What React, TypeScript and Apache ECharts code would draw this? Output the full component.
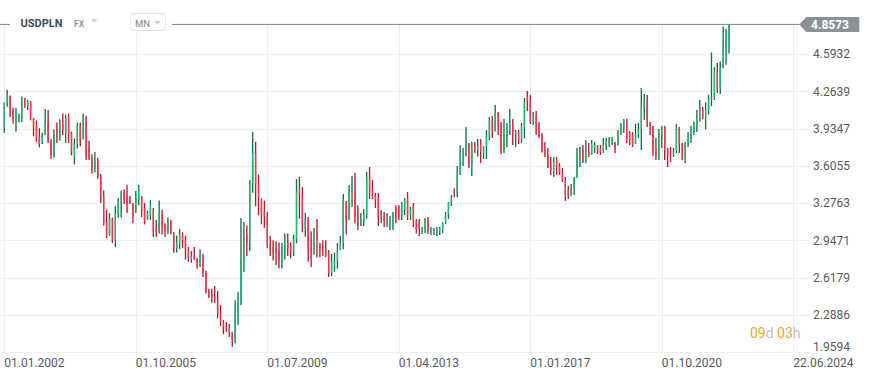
import React, { useEffect, useRef } from "react";
import * as echarts from "echarts";

// USDPLN monthly candles, Jan 2002 .. Sep 2022 (one row per year)
const OPEN = [
  3.95, 4.16, 4.22, 4.10, 4.02, 4.01, 4.06, 4.20, 4.13, 4.17, 4.03, 3.97,
  3.86, 3.82, 3.88, 4.00, 3.84, 3.71, 3.93, 3.86, 3.99, 3.90, 4.04, 3.89,
  3.68, 3.80, 3.96, 3.85, 4.04, 3.78, 3.68, 3.58, 3.66, 3.52, 3.35, 3.12,
  3.00, 3.14, 2.95, 3.18, 3.29, 3.37, 3.34, 3.31, 3.27, 3.21, 3.30, 3.33,
  3.23, 3.14, 3.17, 3.22, 3.06, 3.03, 3.18, 3.09, 3.03, 3.12, 3.02, 2.88,
  2.92, 3.00, 2.96, 2.87, 2.78, 2.82, 2.79, 2.73, 2.82, 2.66, 2.50, 2.47,
  2.46, 2.43, 2.30, 2.22, 2.19, 2.17, 2.13, 2.08, 2.30, 2.40, 2.78, 3.00,
  2.93, 3.45, 3.72, 3.45, 3.31, 3.20, 3.16, 2.91, 2.89, 2.88, 2.86, 2.77,
  2.86, 2.93, 2.90, 2.85, 2.96, 3.40, 3.35, 3.06, 3.13, 2.90, 2.84, 3.02,
  2.92, 2.90, 2.88, 2.83, 2.66, 2.72, 2.76, 2.87, 2.92, 3.28, 3.13, 3.38,
  3.44, 3.18, 3.10, 3.12, 3.17, 3.50, 3.40, 3.34, 3.33, 3.20, 3.17, 3.09,
  3.08, 3.12, 3.24, 3.25, 3.16, 3.22, 3.32, 3.17, 3.25, 3.12, 3.12, 3.02,
  3.04, 3.12, 3.02, 3.02, 3.01, 3.03, 3.04, 3.10, 3.18, 3.28, 3.39, 3.36,
  3.55, 3.68, 3.70, 3.80, 3.62, 3.78, 3.74, 3.80, 3.72, 3.78, 3.87, 4.01,
  3.92, 4.08, 3.99, 3.73, 3.88, 3.93, 3.98, 3.88, 3.90, 3.84, 3.95, 4.22,
  4.18, 4.00, 4.05, 3.96, 3.87, 3.74, 3.71, 3.62, 3.56, 3.66, 3.60, 3.55,
  3.48, 3.40, 3.35, 3.42, 3.50, 3.67, 3.75, 3.65, 3.73, 3.71, 3.76, 3.78,
  3.76, 3.73, 3.79, 3.81, 3.82, 3.81, 3.79, 3.89, 3.95, 4.01, 3.90, 3.88,
  3.80, 3.88, 3.93, 4.14, 4.17, 3.99, 3.96, 3.74, 3.68, 3.87, 3.95, 3.75,
  3.72, 3.70, 3.74, 3.94, 3.80, 3.67, 3.80, 3.85, 3.89, 3.96, 4.00, 4.11,
  4.04, 4.10, 4.20, 4.21, 4.44, 4.29, 4.49, 4.64, 4.74,
];
const CLOSE = [
  4.16, 4.24, 4.10, 4.02, 4.08, 4.06, 4.20, 4.14, 4.17, 4.03, 3.95, 3.84,
  3.80, 3.88, 4.00, 3.83, 3.71, 3.90, 3.86, 3.98, 3.92, 4.03, 3.89, 3.74,
  3.80, 3.96, 3.82, 4.04, 3.70, 3.68, 3.58, 3.66, 3.52, 3.32, 3.10, 2.99,
  3.14, 2.95, 3.18, 3.29, 3.37, 3.31, 3.27, 3.28, 3.16, 3.32, 3.40, 3.22,
  3.12, 3.19, 3.26, 3.02, 3.02, 3.18, 3.07, 3.03, 3.12, 3.03, 2.88, 2.93,
  3.00, 2.95, 2.87, 2.78, 2.81, 2.79, 2.73, 2.83, 2.66, 2.50, 2.46, 2.44,
  2.43, 2.30, 2.22, 2.18, 2.17, 2.13, 2.07, 2.30, 2.40, 2.78, 2.97, 2.93,
  3.45, 3.72, 3.44, 3.33, 3.17, 3.16, 2.90, 2.85, 2.84, 2.84, 2.77, 2.86,
  2.93, 2.88, 2.85, 2.96, 3.38, 3.35, 3.08, 3.13, 2.88, 2.84, 3.02, 2.96,
  2.87, 2.87, 2.83, 2.66, 2.76, 2.76, 2.85, 2.92, 3.30, 3.13, 3.40, 3.44,
  3.16, 3.10, 3.13, 3.17, 3.50, 3.36, 3.33, 3.30, 3.16, 3.15, 3.12, 3.13,
  3.12, 3.18, 3.17, 3.16, 3.27, 3.31, 3.17, 3.22, 3.12, 3.04, 3.05, 3.04,
  3.12, 3.03, 3.04, 3.04, 3.05, 3.05, 3.10, 3.18, 3.28, 3.33, 3.36, 3.55,
  3.72, 3.70, 3.80, 3.62, 3.76, 3.74, 3.79, 3.74, 3.78, 3.87, 4.01, 3.92,
  4.08, 3.99, 3.73, 3.90, 3.94, 3.98, 3.90, 3.91, 3.84, 3.95, 4.17, 4.18,
  4.00, 4.05, 3.96, 3.87, 3.73, 3.70, 3.60, 3.57, 3.65, 3.60, 3.54, 3.48,
  3.34, 3.34, 3.42, 3.49, 3.72, 3.74, 3.65, 3.72, 3.69, 3.80, 3.79, 3.75,
  3.73, 3.80, 3.83, 3.83, 3.85, 3.75, 3.87, 3.96, 4.01, 3.83, 3.84, 3.79,
  3.89, 3.93, 4.14, 4.17, 3.99, 3.96, 3.73, 3.70, 3.87, 3.95, 3.74, 3.70,
  3.70, 3.74, 3.94, 3.80, 3.67, 3.81, 3.86, 3.89, 3.97, 4.00, 4.12, 4.04,
  4.10, 4.20, 4.21, 4.44, 4.29, 4.48, 4.64, 4.74, 4.8573,
];
const LOW = [
  3.90, 4.13, 4.04, 3.98, 3.91, 3.99, 3.995, 4.12, 4.10, 4.01, 3.87, 3.82,
  3.77, 3.80, 3.88, 3.81, 3.67, 3.68, 3.81, 3.83, 3.88, 3.81, 3.81, 3.70,
  3.62, 3.76, 3.78, 3.84, 3.66, 3.66, 3.54, 3.55, 3.49, 3.28, 3.08, 2.97,
  2.99, 2.925, 2.89, 3.15, 3.15, 3.27, 3.19, 3.27, 3.10, 3.19, 3.26, 3.155,
  3.09, 3.13, 3.13, 2.98, 2.98, 3.01, 3.00, 2.98, 3.005, 3.00, 2.84, 2.84,
  2.87, 2.88, 2.78, 2.76, 2.75, 2.775, 2.70, 2.71, 2.625, 2.48, 2.44, 2.40,
  2.395, 2.26, 2.19, 2.12, 2.14, 2.095, 2.006, 2.04, 2.20, 2.377, 2.67, 2.81,
  2.855, 3.37, 3.25, 3.17, 3.09, 3.06, 2.88, 2.81, 2.77, 2.73, 2.70, 2.70,
  2.78, 2.81, 2.79, 2.81, 2.925, 3.14, 3.02, 2.98, 2.76, 2.713, 2.82, 2.80,
  2.80, 2.81, 2.80, 2.625, 2.634, 2.67, 2.70, 2.863, 2.87, 3.00, 3.13, 3.244,
  3.10, 3.04, 3.075, 3.075, 3.14, 3.314, 3.314, 3.235, 3.075, 3.10, 3.067, 3.067,
  3.04, 3.04, 3.10, 3.129, 3.129, 3.173, 3.129, 3.129, 3.067, 3.01, 2.987, 3.005,
  3.014, 3.005, 2.996, 2.996, 2.987, 2.996, 3.014, 3.093, 3.138, 3.252, 3.33, 3.33,
  3.526, 3.606, 3.69, 3.588, 3.517, 3.721, 3.69, 3.632, 3.668, 3.668, 3.836, 3.853,
  3.91, 3.88, 3.712, 3.721, 3.774, 3.88, 3.791, 3.774, 3.80, 3.809, 3.85, 4.092,
  3.977, 3.968, 3.88, 3.853, 3.725, 3.685, 3.588, 3.526, 3.51, 3.53, 3.526, 3.465,
  3.297, 3.314, 3.34, 3.35, 3.50, 3.597, 3.632, 3.632, 3.685, 3.703, 3.721, 3.712,
  3.703, 3.721, 3.747, 3.774, 3.791, 3.721, 3.79, 3.88, 3.898, 3.809, 3.791, 3.774,
  3.80, 3.853, 3.747, 4.012, 3.95, 3.88, 3.694, 3.659, 3.659, 3.765, 3.659, 3.597,
  3.641, 3.685, 3.721, 3.721, 3.659, 3.632, 3.774, 3.81, 3.88, 3.906, 4.00, 4.02,
  3.93, 4.06, 4.136, 4.19, 4.251, 4.242, 4.47, 4.50, 4.60,
];
const HIGH = [
  4.17, 4.28, 4.23, 4.12, 4.12, 4.07, 4.22, 4.21, 4.19, 4.18, 4.03, 4.01,
  3.94, 3.90, 4.11, 4.10, 3.84, 3.93, 3.99, 4.02, 4.07, 4.06, 4.07, 3.91,
  3.85, 3.99, 3.99, 4.07, 4.05, 3.83, 3.71, 3.73, 3.68, 3.535, 3.39, 3.22,
  3.19, 3.15, 3.25, 3.32, 3.39, 3.40, 3.44, 3.34, 3.28, 3.385, 3.44, 3.34,
  3.28, 3.21, 3.305, 3.235, 3.13, 3.30, 3.22, 3.10, 3.15, 3.13, 3.02, 2.99,
  3.05, 3.02, 2.99, 2.89, 2.855, 2.89, 2.79, 2.87, 2.83, 2.68, 2.52, 2.52,
  2.545, 2.50, 2.377, 2.245, 2.227, 2.21, 2.14, 2.42, 2.49, 3.146, 3.11, 3.08,
  3.48, 3.906, 3.82, 3.53, 3.32, 3.30, 3.20, 2.99, 2.95, 2.94, 2.93, 2.925,
  3.01, 3.01, 2.93, 3.00, 3.49, 3.508, 3.42, 3.19, 3.155, 3.03, 3.058, 3.137,
  2.925, 2.95, 2.95, 2.863, 2.83, 2.84, 2.925, 2.987, 3.358, 3.296, 3.438, 3.517,
  3.544, 3.26, 3.19, 3.226, 3.553, 3.597, 3.482, 3.367, 3.367, 3.217, 3.20, 3.19,
  3.164, 3.20, 3.26, 3.26, 3.287, 3.323, 3.376, 3.244, 3.279, 3.137, 3.137, 3.067,
  3.146, 3.155, 3.067, 3.058, 3.067, 3.067, 3.11, 3.199, 3.287, 3.35, 3.41, 3.606,
  3.79, 3.765, 3.95, 3.81, 3.818, 3.818, 3.844, 3.844, 3.783, 3.924, 4.039, 4.048,
  4.145, 4.083, 3.995, 4.021, 3.986, 4.109, 4.021, 3.924, 3.924, 3.986, 4.207, 4.269,
  4.233, 4.083, 4.092, 3.995, 3.898, 3.818, 3.765, 3.685, 3.685, 3.685, 3.632, 3.588,
  3.509, 3.429, 3.447, 3.509, 3.765, 3.774, 3.791, 3.836, 3.809, 3.836, 3.818, 3.791,
  3.791, 3.853, 3.853, 3.862, 3.862, 3.818, 3.924, 3.986, 4.021, 4.021, 3.915, 3.906,
  3.977, 3.986, 4.295, 4.242, 4.233, 3.995, 3.96, 3.853, 3.933, 3.959, 3.959, 3.765,
  3.774, 3.765, 3.977, 3.95, 3.809, 3.818, 3.906, 3.96, 4.00, 4.10, 4.189, 4.13,
  4.17, 4.233, 4.61, 4.48, 4.516, 4.53, 4.84, 4.82, 4.862,
];

const X_TICK_LABELS = ["01.01.2002", "01.10.2005", "01.07.2009", "01.04.2013", "01.01.2017", "01.10.2020", "22.06.2024"];
const MONTHS_PER_X_TICK = 45;
const Y_TICK_LABELS = ["1.9594", "2.2886", "2.6179", "2.9471", "3.2763", "3.6055", "3.9347", "4.2639", "4.5932"];

const SYMBOL = "USDPLN";
const MARKET = "FX";
const PERIOD = "MN";
const COUNTDOWN_DAYS = "09";
const COUNTDOWN_HOURS = "03";

const BODY_UP = "#22b473";
const WICK_UP = "#137044";
const BODY_DOWN = "#f7344a";
const WICK_DOWN = "#b21b2e";
const GRID = "#eeeeee";
const LABEL = "#555a5e";
const FONT = "Roboto";

export default function App() {
  const ref = useRef<HTMLDivElement>(null);

  useEffect(() => {
    if (!ref.current) return;
    const chart = echarts.init(ref.current, null, { renderer: "svg" });
    const candles = OPEN.map((o, i) => [i, o, CLOSE[i], LOW[i], HIGH[i]]);
    const xTickValues = X_TICK_LABELS.map((_, k) => k * MONTHS_PER_X_TICK);
    const yTickValues = Y_TICK_LABELS.map(Number);
    const lastClose = CLOSE[CLOSE.length - 1];

    chart.setOption({
      animation: false,
      grid: { left: 0, right: 62, top: 25, bottom: 25.7, containLabel: false },
      xAxis: {
        type: "value",
        min: -1.47,
        max: 275.72,
        axisLine: { show: false },
        axisTick: { show: false, customValues: xTickValues },
        axisLabel: {
          customValues: xTickValues,
          formatter: (v: number) => X_TICK_LABELS[Math.round(v / MONTHS_PER_X_TICK)] ?? "",
          align: "left",
          margin: 5,
          color: LABEL,
          fontSize: 12,
          fontFamily: FONT,
        },
        splitLine: { show: true, lineStyle: { color: GRID, width: 1 } },
      },
      yAxis: {
        type: "value",
        position: "right",
        min: 1.9594,
        max: 4.8522,
        axisLine: { show: false },
        axisTick: { show: false, customValues: yTickValues },
        axisLabel: {
          customValues: yTickValues,
          formatter: (v: number) => {
            const k = yTickValues.findIndex((t) => Math.abs(t - v) < 1e-6);
            if (k < 0) return "";
            return k === 0 ? `{b|${Y_TICK_LABELS[k]}}` : Y_TICK_LABELS[k];
          },
          margin: 3,
          color: LABEL,
          fontSize: 12,
          fontFamily: FONT,
          rich: {
            b: { color: LABEL, fontSize: 12, fontFamily: FONT, padding: [0, 0, 10, 0] },
          },
        },
        splitLine: { show: true, lineStyle: { color: GRID, width: 1 } },
      },
      series: [
        {
          type: "custom",
          clip: false,
          data: candles,
          encode: { x: 0, y: [1, 2, 3, 4] },
          renderItem: (params: any, api: any) => {
            const i = api.value(0);
            const o = api.value(1);
            const c = api.value(2);
            const l = api.value(3);
            const h = api.value(4);
            const pH = api.coord([i, h]);
            const pL = api.coord([i, l]);
            const yO = api.coord([i, o])[1];
            const yC = api.coord([i, c])[1];
            const up = c >= o;
            const top = Math.min(yO, yC);
            const bot = Math.max(yO, yC);
            return {
              type: "group",
              children: [
                {
                  type: "line",
                  shape: { x1: pH[0], y1: pH[1], x2: pL[0], y2: pL[1] },
                  style: { stroke: up ? WICK_UP : WICK_DOWN, lineWidth: 1.35 },
                },
                {
                  type: "rect",
                  shape: { x: pH[0] - 0.675, y: top, width: 1.35, height: Math.max(bot - top, 1) },
                  style: { fill: up ? BODY_UP : BODY_DOWN },
                },
              ],
            };
          },
        },
      ],
    });

    const py = chart.convertToPixel({ yAxisIndex: 0 }, lastClose) as number;

    chart.setOption({
      graphic: [
        {
          type: "line",
          z: 10,
          shape: { x1: 0, y1: py, x2: 800, y2: py },
          style: { stroke: "#7d868b", lineWidth: 1 },
        },
        {
          type: "rect",
          z: 11,
          shape: { x: 10, y: 6, width: 162, height: 21 },
          style: { fill: "#ffffff" },
        },
        {
          type: "text",
          z: 12,
          style: { text: SYMBOL, x: 20.5, y: 23.5, verticalAlign: "middle", fill: "#414c56", font: `bold 11px ${FONT}` },
        },
        {
          type: "text",
          z: 12,
          style: { text: MARKET, x: 74, y: 24, verticalAlign: "middle", fill: "#8e99a2", font: `bold 8.5px ${FONT}` },
        },
        {
          type: "polygon",
          z: 12,
          shape: { points: [[90.7, 19.3], [97.5, 19.3], [94.1, 22.6]] },
          style: { fill: "#c9cfd4" },
        },
        {
          type: "rect",
          z: 12,
          shape: { x: 130.7, y: 13.5, width: 34.6, height: 17, r: 3 },
          style: { fill: "#ffffff", stroke: "#dfe3e7", lineWidth: 1 },
        },
        {
          type: "text",
          z: 13,
          style: { text: PERIOD, x: 135, y: 23, verticalAlign: "middle", fill: "#7b858e", font: `9.5px ${FONT}` },
        },
        {
          type: "polygon",
          z: 13,
          shape: { points: [[154, 21], [161, 21], [157.5, 24.3]] },
          style: { fill: "#c9cfd4" },
        },
        {
          type: "polygon",
          z: 12,
          shape: {
            points: [[799.3, py], [806.3, py - 7.5], [859.3, py - 7.5], [859.3, py + 7.5], [806.3, py + 7.5]],
          },
          style: { fill: "#8b9297" },
        },
        {
          type: "text",
          z: 13,
          style: {
            text: lastClose.toFixed(4),
            x: 830,
            y: py + 0.5,
            align: "center",
            verticalAlign: "middle",
            fill: "#ffffff",
            font: `bold 12px ${FONT}`,
          },
        },
        {
          type: "text",
          z: 12,
          style: {
            text: `{o|${COUNTDOWN_DAYS}}{g|d }{o|${COUNTDOWN_HOURS}}{g|h}`,
            x: 750,
            y: 333,
            verticalAlign: "middle",
            rich: {
              o: { fill: "#f7a12b", fontSize: 14, fontFamily: FONT },
              g: { fill: "#bfbfbf", fontSize: 14, fontFamily: FONT },
            },
          },
        },
      ],
    });

    return () => chart.dispose();
  }, []);

  return (
    <div
      ref={ref}
      style={{ position: "fixed", left: 0, top: 0, width: 872, height: 378, background: "#ffffff" }}
    />
  );
}
